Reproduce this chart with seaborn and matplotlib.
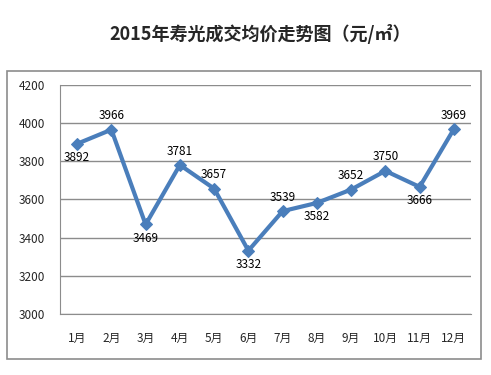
import matplotlib.pyplot as plt
import seaborn as sns
import pandas as pd
from matplotlib.patches import Rectangle

months = ["1月", "2月", "3月", "4月", "5月", "6月", "7月", "8月", "9月", "10月", "11月", "12月"]
prices = [3892, 3966, 3469, 3781, 3657, 3332, 3539, 3582, 3652, 3750, 3666, 3969]
label_side = [-1, 1, -1, 1, 1, -1, 1, -1, 1, 1, -1, 1]
yticks = [3000, 3200, 3400, 3600, 3800, 4000, 4200]

sns.set_style("white")
plt.rcParams['font.family'] = ['Noto Sans CJK SC', 'DejaVu Sans']

df = pd.DataFrame({"month": months, "price": prices})
df["pos"] = range(len(df))

fig = plt.figure(figsize=(4.91, 3.75), dpi=100)
ax = fig.add_axes([60/491, 1-314/375, (471-60)/491, (314-85)/375])

# outer chart border
fig.patches.append(Rectangle((7/491, 1-359/375), (481-7)/491, (359-71)/375,
                             transform=fig.transFigure, fill=False,
                             edgecolor="#8c8c8c", linewidth=1.2))

sns.lineplot(data=df, x="pos", y="price", ax=ax, color="#4a7ebb", linewidth=3,
             marker="D", markersize=6.5, markeredgecolor="#4a7ebb")

for i, (p, s) in enumerate(zip(prices, label_side)):
    ax.annotate(str(p), (i, p), xytext=(0, 10 * s), textcoords="offset points",
                ha="center", va="center", fontsize=8.5, color="black")

ax.set_xlim(-0.5, 11.5)
ax.set_ylim(3000, 4200)
ax.set_yticks(yticks)
ax.set_xticks(range(12))
ax.set_xticklabels(months)
ax.set_xticks([i - 0.5 for i in range(13)], minor=True)
ax.tick_params(axis="x", which="major", length=0, pad=13, labelsize=8.5)
ax.tick_params(axis="x", which="minor", length=4, color="#8c8c8c", direction="out")
ax.tick_params(axis="y", length=4, color="#8c8c8c", direction="out", labelsize=8.5, pad=7)
ax.yaxis.grid(True, color="#8c8c8c", linewidth=1)
ax.set_axisbelow(True)
for side in ["top", "right"]:
    ax.spines[side].set_visible(False)
for side in ["left", "bottom"]:
    ax.spines[side].set_color("#8c8c8c")
ax.set_xlabel("")
ax.set_ylabel("")

fig.text(260/491, 1-34/375, "2015年寿光成交均价走势图（元/㎡）", ha="center", va="center",
         fontsize=13, fontweight="bold")

fig.savefig("out.png", dpi=100)
